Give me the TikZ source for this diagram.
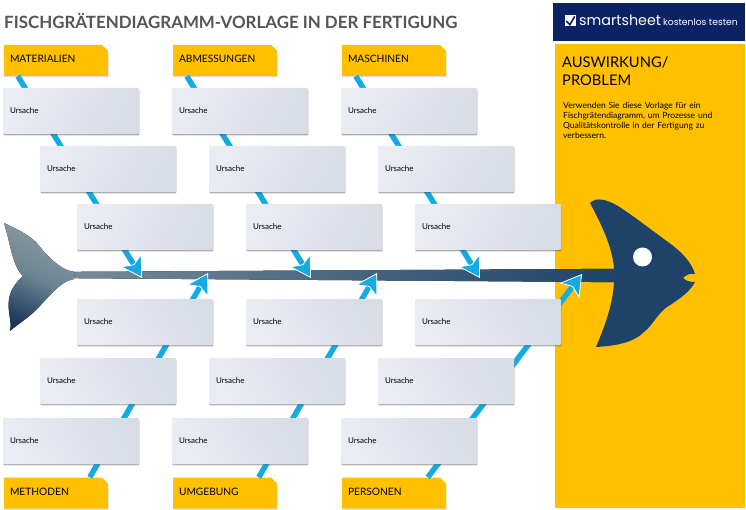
\documentclass[tikz,border=0pt]{standalone}
\usepackage{fontspec}
\setmainfont{Lato}
\newfontfamily\logofont{Poppins}
\usetikzlibrary{positioning,arrows.meta,shadows,shapes.misc}
\definecolor{panelyellow}{HTML}{FFC000}
\definecolor{bannernavy}{HTML}{0B2265}
\definecolor{fishblue}{HTML}{1F4268}
\definecolor{tailgrey}{HTML}{8A9DA3}
\definecolor{bonecyan}{HTML}{14AAE2}
\definecolor{boxlight}{HTML}{E9ECF3}
\definecolor{boxdark}{HTML}{D8DCE5}
\definecolor{titlegrey}{HTML}{555555}
\tikzset{
  causebox/.style={rectangle, rounded corners=1pt, text width=122pt, minimum height=46pt, inner xsep=7pt, inner ysep=0pt,
    align=left, font=\fontsize{8}{10}\selectfont, left color=boxlight, right color=boxdark,
    drop shadow={shadow xshift=0.4pt, shadow yshift=-1.4pt, opacity=.45, fill=black!70}},
  upperbox/.style={causebox, shading angle=60},
  lowerbox/.style={causebox, shading angle=120},
  tagbox/.style={chamfered rectangle, chamfered rectangle corners=north east, chamfered rectangle xsep=3pt, chamfered rectangle ysep=3pt,
    fill=panelyellow, text width=92pt, text height=7.5pt, text depth=3pt, minimum height=31pt, inner xsep=3pt, inner ysep=0pt, align=left,
    font=\fontsize{10.2}{12}\selectfont, drop shadow={shadow xshift=0.4pt, shadow yshift=-1pt, opacity=.3}},
  bone/.style={bonecyan, line width=5.5pt, -{Stealth[length=21pt, width=25pt, inset=5pt, fill=bonecyan, color=white, line width=0.8pt]}}
}
\begin{document}
\begin{tikzpicture}[x=1pt, y=-1pt]
  \useasboundingbox (0,0) rectangle (746,510);

  % Title, banner, panel
  \node[anchor=west, inner sep=0pt, text=titlegrey, font=\fontsize{16.9}{20}\selectfont\bfseries] (title) at (4,21) {FISCHGRÄTENDIAGRAMM-VORLAGE IN DER FERTIGUNG};
  \node[anchor=north west, fill=bannernavy, minimum width=192pt, minimum height=38pt, inner sep=0pt] (banner) at (553,3) {};
  \node[fill=white, minimum size=11pt, inner sep=0pt] (logo) at (570,21) {};
  \draw[bannernavy, line width=1.6pt] ([xshift=2pt]logo.west) -- ([yshift=2pt]logo.south) -- ([xshift=-1pt, yshift=-1pt]logo.north east);
  \node[anchor=west, inner sep=0pt, text=white, font=\logofont\fontsize{14.3}{18}\selectfont] (brand) at (579,20) {smartsheet};
  \node[anchor=west, inner sep=0pt, text=white, font=\logofont\fontsize{9.2}{11}\selectfont] (trial) at (663,22) {kostenlos testen};
  \node[anchor=north west, fill=panelyellow, minimum width=190pt, minimum height=464pt, inner sep=0pt] (panel) at (555,44) {};
  \node[anchor=north west, inner sep=0pt, text width=175pt, align=left, font=\fontsize{14.7}{18}\selectfont] (effect) at (562,56) {AUSWIRKUNG/\\PROBLEM};
  \node[anchor=north west, inner sep=0pt, text width=178pt, align=left, font=\fontsize{8.5}{10}\selectfont] (note) at (563,102) {Verwenden Sie diese Vorlage für ein\\Fischgrätendiagramm, um Prozesse und\\Qualitätskontrolle in der Fertigung zu\\verbessern.};

  % Spine, tail, head
  \node[minimum width=9pt, minimum height=6pt, inner sep=0pt] (tailend) at (72,275) {};
  \node[minimum width=2pt, minimum height=13pt, inner sep=0pt] (headend) at (618,275.5) {};
  \fill[left color=tailgrey!80!fishblue, right color=fishblue] (tailend.north) -- (headend.north) -- (headend.south) -- (tailend.south) -- cycle;
  \fill[top color=tailgrey, bottom color=fishblue!85!black, middle color=tailgrey!72!fishblue, shading angle=-25] (4,223) .. controls (15,228) and (27,234) .. (36,242)
    .. controls (46,255) and (60,270) .. (74,272) -- (74,279)
    .. controls (60,281) and (48,298) .. (36,310) .. controls (28,318) and (18,324) .. (10,331)
    .. controls (14,318) and (-2,298) .. (23,276) .. controls (12,265) and (11,245) .. (4,223) -- cycle;
  \fill[fishblue] (590,203) .. controls (596,197) and (606,199) .. (618,206) .. controls (635,217) and (650,229) .. (668,242)
    .. controls (682,252) and (692,263) .. (695,274) .. controls (690,273) and (686,275) .. (683,278)
    .. controls (686,281) and (690,282) .. (695,282) .. controls (690,292) and (678,300) .. (667,307)
    .. controls (658,313) and (653,325) .. (644,332) .. controls (632,344) and (612,346) .. (596,347)
    .. controls (604,328) and (613,305) .. (614,282) -- (614,268) .. controls (612,245) and (600,222) .. (590,203) -- cycle;
  \node[circle, fill=white, minimum size=19pt, inner sep=0pt] (eye) at (642.5,257) {};

  % Arrow ends on the spine
  \coordinate (tipmat) at (142,278);
  \coordinate (tipabm) at (311,278);
  \coordinate (tipmas) at (480,278);
  \coordinate (tipmet) at (208,273);
  \coordinate (tipumg) at (377,273);
  \coordinate (tipper) at (582,274);

  % Top tags
  \node[tagbox] (mat) at (56,60.5) {MATERIALIEN};
  \node[tagbox] (abm) at (225,60.5) {ABMESSUNGEN};
  \node[tagbox] (mas) at (394,60.5) {MASCHINEN};

  % Bottom tags
  \node[tagbox] (met) at (56,493) {METHODEN};
  \node[tagbox] (umg) at (225,493) {UMGEBUNG};
  \node[tagbox] (per) at (394,493) {PERSONEN};

  % Bones
  \draw[bone] ([xshift=14pt]mat.south west) -- (tipmat);
  \draw[bone] ([xshift=14pt]abm.south west) -- (tipabm);
  \draw[bone] ([xshift=14pt]mas.south west) -- (tipmas);
  \draw[bone] ([xshift=86pt]met.north west) -- (tipmet);
  \draw[bone] ([xshift=86pt]umg.north west) -- (tipumg);
  \draw[bone] ([xshift=86pt]per.north west) -- (tipper);

  % Top rows of boxes
  \node[upperbox] (a1) at (71,111) {Ursache};
  \node[upperbox] (a2) at (240,111) {Ursache};
  \node[upperbox] (a3) at (409,111) {Ursache};
  \node[upperbox] (b1) at (108,169) {Ursache};
  \node[upperbox] (b2) at (277,169) {Ursache};
  \node[upperbox] (b3) at (446,169) {Ursache};
  \node[upperbox] (c1) at (145,227) {Ursache};
  \node[upperbox] (c2) at (314,227) {Ursache};
  \node[upperbox, text width=132pt] (c3) at (488,227) {Ursache};

  % Bottom rows of boxes
  \node[lowerbox] (d1) at (145,322) {Ursache};
  \node[lowerbox] (d2) at (314,322) {Ursache};
  \node[lowerbox, text width=132pt] (d3) at (488,322) {Ursache};
  \node[lowerbox] (e1) at (108,381) {Ursache};
  \node[lowerbox] (e2) at (277,381) {Ursache};
  \node[lowerbox] (e3) at (446,381) {Ursache};
  \node[lowerbox] (f1) at (71,441) {Ursache};
  \node[lowerbox] (f2) at (240,441) {Ursache};
  \node[lowerbox] (f3) at (409,441) {Ursache};
\end{tikzpicture}
\end{document}
